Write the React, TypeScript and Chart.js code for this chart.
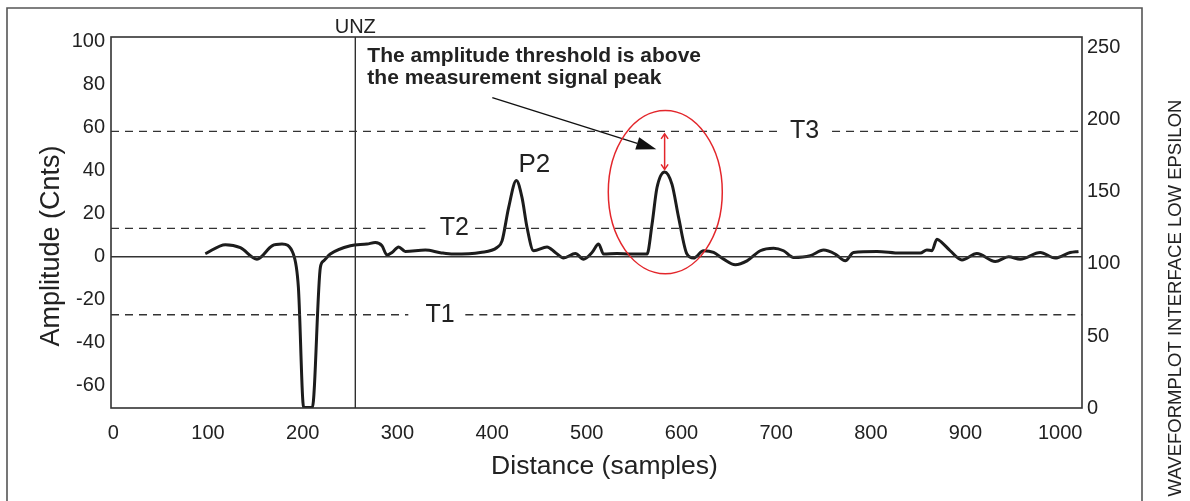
import React, { useEffect, useRef } from "react";
import { Chart, registerables } from "chart.js";

Chart.register(...registerables);

// ---- data ----
const DIST = [
  97.1, 118.3, 134.1, 151.7, 167.6, 178.1, 190.1, 195.4, 201, 210.1, 218.6, 222.1, 229.1, 250.3, 267.9,
  276.7, 283.7, 289, 294.3, 301.3, 308.3, 329.5, 345.3, 359, 387.5, 405.2, 410.5, 417.4, 425.6, 431.6,
  436.9, 443.8, 458, 466.7, 475.5, 487.9, 496.6, 505.5, 512.5, 517.7, 531.9, 545.9, 563.6, 568.9, 574.1,
  582.2, 590, 597, 605.8, 612.8, 623.3, 633.9, 644.5, 656.8, 669.2, 683.2, 697.3, 707.8, 718.4, 736,
  750.1, 762.4, 773, 781.7, 806.4, 831, 852.2, 859.2, 864.5, 869.8, 875.1, 883.8, 896.2, 912, 931.4,
  945.4, 957.8, 978.9, 994.7, 1010.6, 1019.3,
];
const AMP = [
  1.4, 5.6, 4.2, -1.1, 5.1, 5.9, 1.25, -14.2, -70.2, -70.2, -5, -1.9, 1.25, 5.1, 5.9,
  6.6, 5.1, 0.8, 2, 4.6, 2.5, 3.1, 1.9, 1.25, 2, 4.3, 7.4, 22.8, 35.5, 27.5,
  13.6, 2.8, 4.6, 2, -0.6, 1.5, -1.1, 2, 5.9, 1.25, 1.5, 1.25, 1.25, 15.1, 32.1,
  39.5, 33.7, 18.2, 1.25, -0.6, 2.8, 2, -1.1, -3.7, -1.9, 2.8, 4, 2.8, -0.3, 0.5,
  3.1, 1.25, -1.9, 2, 2.5, 1.7, 1.7, 3.2, 2.8, 8.2, 6.6, 2.8, -1.5, 1.5, -2.2,
  0, -1.1, 2, -0.6, 2, 2.5,
];
const X_TICKS = [0, 100, 200, 300, 400, 500, 600, 700, 800, 900, 1000];
const LEFT_TICKS = [100, 80, 60, 40, 20, 0, -20, -40, -60];
const RIGHT_TICKS = [0, 50, 100, 150, 200, 250];
const THRESH_NAMES = ["T3", "T2", "T1"];
const THRESH_VALUES = [58.4, 13.2, -27];
const UNZ_POS = 255.5;
const PEAK_NAME = "P2";
const NOTE_LINES = ["The amplitude threshold is above", "the measurement signal peak"];
const X_TITLE = "Distance (samples)";
const Y_TITLE = "Amplitude (Cnts)";
const RIGHT_TITLE = "WAVEFORMPLOT INTERFACE LOW EPSILON";

// ---- layout (not data) ----
const X_MIN = -2.5;
const X_MAX = 1023;
const Y_MIN = -70.4;
const Y_MAX = 102.3;
const R_MAX = 257.6;
const THRESH_GAPS = [
  [704, 759],
  [329.5, 382],
  [311.5, 371.7],
];
const THRESH_LABEL_X = [730, 360, 345];
const P2_POS = [444.6, 42.6];
const NOTE_POS = [268.2, 90.7, 80.4];
const ARROW = { x1: 400.2, y1: 74.1, x2: 573.4, y2: 50 };
const ELLIPSE = { cx: 582.9, cy: 30.1, rx: 60.2, ry: 38 };
const RED_ARROW = { x: 582.2, y1: 57.2, y2: 40.7 };

const FONT = "'Liberation Sans', Arial, Helvetica, sans-serif";
const INK = "#222222";
const LINE = "#1c1c1c";
const RED = "#e3262b";

const decor = {
  id: "decor",
  beforeDraw(chart: any) {
    const { ctx } = chart;
    ctx.save();
    ctx.fillStyle = "#ffffff";
    ctx.fillRect(0, 0, chart.width, chart.height);
    ctx.strokeStyle = "#555555";
    ctx.lineWidth = 1.6;
    ctx.beginPath();
    ctx.moveTo(7, chart.height + 2);
    ctx.lineTo(7, 8);
    ctx.lineTo(1142, 8);
    ctx.lineTo(1142, chart.height + 2);
    ctx.stroke();
    ctx.restore();
  },
  afterDatasetsDraw(chart: any) {
    const { ctx, chartArea: a, scales } = chart;
    const px = (v: number) => scales.x.getPixelForValue(v);
    const py = (v: number) => scales.y.getPixelForValue(v);
    ctx.save();
    // plot frame
    ctx.strokeStyle = "#333333";
    ctx.lineWidth = 1.6;
    ctx.strokeRect(a.left, a.top, a.right - a.left, a.bottom - a.top);

    ctx.fillStyle = INK;
    ctx.textAlign = "center";
    ctx.textBaseline = "middle";
    ctx.font = `25px ${FONT}`;
    THRESH_NAMES.forEach((n, i) => ctx.fillText(n, px(THRESH_LABEL_X[i]), py(THRESH_VALUES[i])));
    ctx.font = `26px ${FONT}`;
    ctx.fillText(PEAK_NAME, px(P2_POS[0]), py(P2_POS[1]));

    ctx.font = `20px ${FONT}`;
    ctx.textBaseline = "alphabetic";
    ctx.fillText("UNZ", px(UNZ_POS), a.top - 4);

    ctx.font = `bold 21px ${FONT}`;
    ctx.textAlign = "left";
    ctx.fillText(NOTE_LINES[0], px(NOTE_POS[0]), py(NOTE_POS[1]));
    ctx.fillText(NOTE_LINES[1], px(NOTE_POS[0]), py(NOTE_POS[2]));

    // black arrow
    const ax1 = px(ARROW.x1), ay1 = py(ARROW.y1), ax2 = px(ARROW.x2), ay2 = py(ARROW.y2);
    const ang = Math.atan2(ay2 - ay1, ax2 - ax1);
    const hl = 20, hw = 6.5;
    const bx = ax2 - hl * Math.cos(ang), by = ay2 - hl * Math.sin(ang);
    ctx.strokeStyle = "#111111";
    ctx.lineWidth = 1.4;
    ctx.beginPath();
    ctx.moveTo(ax1, ay1);
    ctx.lineTo(bx, by);
    ctx.stroke();
    ctx.fillStyle = "#111111";
    ctx.beginPath();
    ctx.moveTo(ax2, ay2);
    ctx.lineTo(bx - hw * Math.sin(ang), by + hw * Math.cos(ang));
    ctx.lineTo(bx + hw * Math.sin(ang), by - hw * Math.cos(ang));
    ctx.closePath();
    ctx.fill();

    // red ellipse
    const ecx = px(ELLIPSE.cx), ecy = py(ELLIPSE.cy);
    const erx = Math.abs(px(ELLIPSE.cx + ELLIPSE.rx) - ecx);
    const ery = Math.abs(py(ELLIPSE.cy + ELLIPSE.ry) - ecy);
    ctx.strokeStyle = RED;
    ctx.lineWidth = 1.5;
    ctx.beginPath();
    ctx.ellipse(ecx, ecy, erx, ery, 0, 0, Math.PI * 2);
    ctx.stroke();

    // red double arrow
    const rx = px(RED_ARROW.x), ry1 = py(RED_ARROW.y1), ry2 = py(RED_ARROW.y2);
    ctx.beginPath();
    ctx.moveTo(rx, ry1);
    ctx.lineTo(rx, ry2);
    ctx.stroke();
    ctx.beginPath();
    ctx.moveTo(rx - 3.5, ry1 + 5);
    ctx.lineTo(rx, ry1);
    ctx.lineTo(rx + 3.5, ry1 + 5);
    ctx.moveTo(rx - 3.5, ry2 - 5);
    ctx.lineTo(rx, ry2);
    ctx.lineTo(rx + 3.5, ry2 - 5);
    ctx.stroke();
    ctx.restore();
  },
  afterDraw(chart: any) {
    const { ctx } = chart;
    ctx.save();
    ctx.fillStyle = INK;
    ctx.textAlign = "center";
    ctx.textBaseline = "middle";
    ctx.font = `26.5px ${FONT}`;
    ctx.fillText(X_TITLE, 604.5, 467);
    ctx.save();
    ctx.translate(52, 246);
    ctx.rotate(-Math.PI / 2);
    ctx.font = `27px ${FONT}`;
    ctx.fillText(Y_TITLE, 0, 0);
    ctx.restore();
    ctx.save();
    ctx.translate(1176, 298);
    ctx.rotate(-Math.PI / 2);
    ctx.font = `18.5px ${FONT}`;
    ctx.fillText(RIGHT_TITLE, 0, 0);
    ctx.restore();
    ctx.restore();
  },
};

function thresholdData(i: number) {
  const v = THRESH_VALUES[i];
  const [g1, g2] = THRESH_GAPS[i];
  return [
    { x: X_MIN, y: v },
    { x: g1, y: v },
    { x: (g1 + g2) / 2, y: null },
    { x: g2, y: v },
    { x: X_MAX, y: v },
  ];
}

export default function App() {
  const ref = useRef<HTMLCanvasElement | null>(null);

  useEffect(() => {
    if (!ref.current) return;
    const tickFont = { family: FONT, size: 20 };
    const noGrid = { display: false, drawTicks: false, tickLength: 0 };
    const chart = new Chart(ref.current, {
      type: "line",
      data: {
        datasets: [
          ...THRESH_NAMES.map((n, i) => ({
            label: n,
            data: thresholdData(i),
            borderColor: "#333333",
            borderWidth: 1.3,
            borderDash: [8, 6],
            pointRadius: 0,
            spanGaps: false,
            yAxisID: "y",
          })),
          {
            label: "zero",
            data: [
              { x: X_MIN, y: 0 },
              { x: X_MAX, y: 0 },
            ],
            borderColor: "#333333",
            borderWidth: 1.5,
            pointRadius: 0,
            yAxisID: "y",
          },
          {
            label: "UNZ",
            data: [
              { x: UNZ_POS, y: Y_MIN },
              { x: UNZ_POS, y: Y_MAX },
            ],
            borderColor: "#222222",
            borderWidth: 1.3,
            pointRadius: 0,
            yAxisID: "y",
          },
          {
            label: "Amplitude",
            data: DIST.map((x, i) => ({ x, y: AMP[i] })),
            borderColor: LINE,
            borderWidth: 3,
            pointRadius: 0,
            cubicInterpolationMode: "monotone",
            yAxisID: "y",
          },
        ],
      },
      options: {
        animation: false,
        responsive: false,
        devicePixelRatio: 1,
        layout: { padding: { top: 37, left: 0, right: 0, bottom: 0 } },
        plugins: { legend: { display: false }, tooltip: { enabled: false } },
        scales: {
          x: {
            type: "linear",
            min: X_MIN,
            max: X_MAX,
            afterBuildTicks: (s: any) => {
              s.ticks = X_TICKS.map((v) => ({ value: v }));
            },
            afterFit: (s: any) => {
              s.height = 93;
            },
            ticks: {
              font: tickFont,
              color: INK,
              padding: 13,
              maxRotation: 0,
              autoSkip: false,
              callback: (v: any) => String(v),
            },
            grid: noGrid,
            border: { display: false },
          },
          y: {
            type: "linear",
            position: "left",
            min: Y_MIN,
            max: Y_MAX,
            afterBuildTicks: (s: any) => {
              s.ticks = LEFT_TICKS.map((v) => ({ value: v }));
            },
            afterFit: (s: any) => {
              s.width = 111;
            },
            ticks: { font: tickFont, color: INK, padding: 6, autoSkip: false, callback: (v: any) => String(v) },
            grid: noGrid,
            border: { display: false },
          },
          y2: {
            type: "linear",
            position: "right",
            min: 0,
            max: R_MAX,
            afterBuildTicks: (s: any) => {
              s.ticks = RIGHT_TICKS.map((v) => ({ value: v }));
            },
            afterFit: (s: any) => {
              s.width = 108;
            },
            ticks: { font: tickFont, color: INK, padding: 5, autoSkip: false, callback: (v: any) => String(v) },
            grid: noGrid,
            border: { display: false },
          },
        },
      },
      plugins: [decor],
    } as any);
    return () => chart.destroy();
  }, []);

  return (
    <div style={{ position: "fixed", left: 0, top: 0, width: 1190, height: 501, background: "#fff" }}>
      <canvas ref={ref} width={1190} height={501} style={{ display: "block", width: 1190, height: 501 }} />
    </div>
  );
}
